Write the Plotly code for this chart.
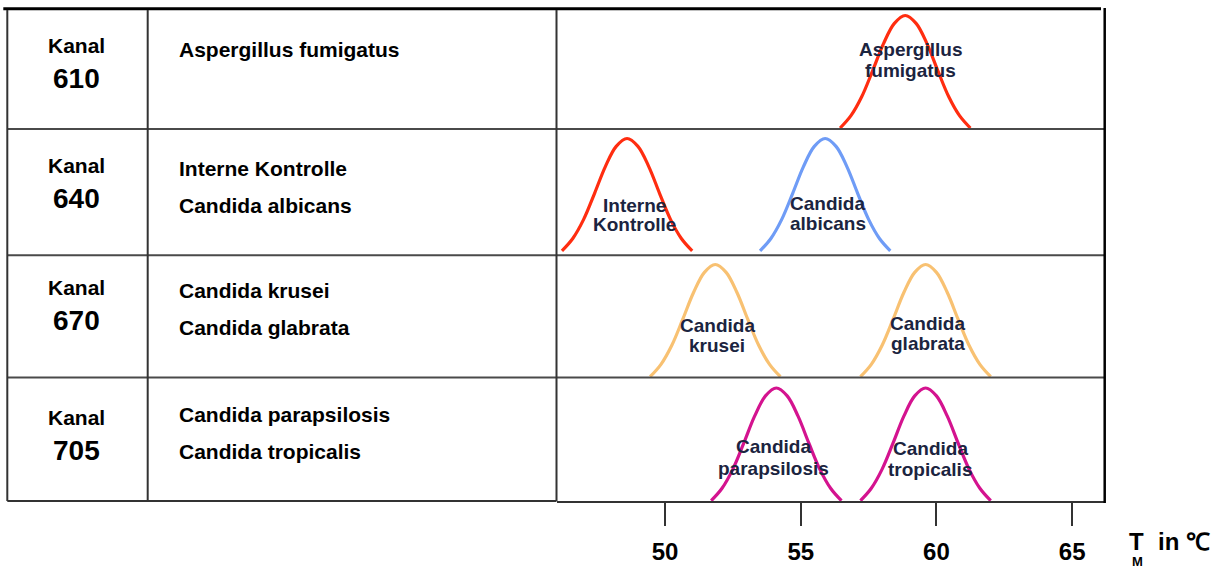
import plotly.graph_objects as go

W, H = 1223, 571

# ---------------- data ----------------
channel_word = "Kanal"
channels = ["610", "640", "670", "705"]
targets_610 = ["Aspergillus fumigatus"]
targets_640 = ["Interne Kontrolle", "Candida albicans"]
targets_670 = ["Candida krusei", "Candida glabrata"]
targets_705 = ["Candida parapsilosis", "Candida tropicalis"]

peak_labels = ["Aspergillus\nfumigatus", "Interne\nKontrolle", "Candida\nalbicans",
               "Candida\nkrusei", "Candida\nglabrata",
               "Candida\nparapsilosis", "Candida\ntropicalis"]
peak_channel = [0, 1, 1, 2, 2, 3, 3]
peak_tm = [58.85, 48.6, 55.9, 51.85, 59.6, 54.1, 59.6]          # melting temperature (°C)
peak_colors = ["#FF2D10", "#FF2D10", "#6F9CF6", "#F8C172", "#F8C172", "#D4138F", "#D4138F"]

# shape of one melting peak (offset in °C, relative height)
profile_dt = [-2.4, -2.0, -1.6, -1.2, -0.8, -0.4, 0.0, 0.4, 0.8, 1.2, 1.6, 2.0, 2.4]
profile_h = [0.0, 0.11, 0.28, 0.51, 0.75, 0.93, 1.0, 0.93, 0.75, 0.51, 0.28, 0.11, 0.0]

x_ticks = [50, 55, 60, 65]
x_range = [46.0, 66.2]

# ---------------- layout geometry (pixels) ----------------
row_edges = [9, 129, 255.3, 377.5, 501]
col_edges = [7.3, 147.7, 556.5, 1104.7]
row_peak_gap = [6.5, 9.5, 9.2, 10.5]    # gap between row top and peak
row_base_gap = [1.0, 4.5, 0.8, 0.3]     # gap between curve ends and row bottom

kanal_y = [45.8, 165.8, 287.5, 417.5]
number_y = [78.3, 198.5, 320.8, 450.0]
target_y = [[50.0], [169.0, 206.0], [290.7, 328.0], [414.8, 451.6]]
label_dx = [0.21, 0.26, 0.1, 0.07, 0.08, -0.11, 0.18]
label_y = [[50, 71], [205, 224.5], [203, 223], [325, 345.5], [323, 343], [446.7, 468], [448, 469]]

FONT = "Liberation Sans, Arial, sans-serif"
TXT = "#000000"
LBL = "#1B2440"


def px(x):
    return x / W


def py(y):
    return 1 - y / H


fig = go.Figure()

layout = dict(
    width=W, height=H,
    margin=dict(l=0, r=0, t=0, b=0),
    paper_bgcolor="white", plot_bgcolor="white",
    showlegend=False,
    template="none",
    font=dict(family=FONT, color=TXT),
    xaxis=dict(
        domain=[px(col_edges[2]), px(col_edges[3])],
        range=x_range, anchor="y4",
        tickvals=x_ticks, ticktext=[str(t) for t in x_ticks],
        ticks="outside", ticklen=23, tickwidth=1.5, tickcolor="#333333",
        tickfont=dict(family=FONT, size=24, color="#000000", weight="bold"),
        ticklabelstandoff=5,
        showline=True, linecolor="#333333", linewidth=2,
        showgrid=False, zeroline=False, automargin=False, fixedrange=True,
    ),
)
for i in range(4):
    top, bot = row_edges[i], row_edges[i + 1]
    s = (bot - top - row_peak_gap[i] - row_base_gap[i])
    ymin = -row_base_gap[i] / s
    ymax = 1 + row_peak_gap[i] / s
    name = "yaxis" if i == 0 else f"yaxis{i + 1}"
    layout[name] = dict(
        domain=[py(bot), py(top)], range=[ymin, ymax], anchor="x",
        showgrid=False, zeroline=False, showticklabels=False, showline=False,
        ticks="", automargin=False, fixedrange=True,
    )
fig.update_layout(**layout)

# curves
for k in range(len(peak_tm)):
    xs = [peak_tm[k] + d for d in profile_dt]
    yref = "y" if peak_channel[k] == 0 else f"y{peak_channel[k] + 1}"
    fig.add_trace(go.Scatter(
        x=xs, y=profile_h, mode="lines",
        line=dict(color=peak_colors[k], width=3.2, shape="spline", smoothing=1.0),
        xaxis="x", yaxis=yref, hoverinfo="skip",
    ))

annotations = []
for k, lab in enumerate(peak_labels):
    for j, line in enumerate(lab.split("\n")):
        annotations.append(dict(
            x=peak_tm[k] + label_dx[k], xref="x", y=py(label_y[k][j]), yref="paper",
            text=line, showarrow=False, xanchor="center", yanchor="middle",
            font=dict(family=FONT, size=19, color=LBL, weight="bold"),
        ))

targets = [targets_610, targets_640, targets_670, targets_705]
for i in range(4):
    annotations.append(dict(
        x=px(76), y=py(kanal_y[i]), xref="paper", yref="paper", text=channel_word,
        showarrow=False, xanchor="center", yanchor="middle",
        font=dict(family=FONT, size=21, color=TXT, weight="bold")))
    annotations.append(dict(
        x=px(76), y=py(number_y[i]), xref="paper", yref="paper", text=channels[i],
        showarrow=False, xanchor="center", yanchor="middle",
        font=dict(family=FONT, size=28, color=TXT, weight="bold")))
    for j, t in enumerate(targets[i]):
        annotations.append(dict(
            x=px(177.2), y=py(target_y[i][j]), xref="paper", yref="paper", text=t,
            showarrow=False, xanchor="left", yanchor="middle",
            font=dict(family=FONT, size=21, color=TXT, weight="bold")))

# axis title  T_M in ℃
annotations.append(dict(x=px(1127), y=py(541.5), xref="paper", yref="paper", text="T",
                        showarrow=False, xanchor="left", yanchor="middle",
                        font=dict(family=FONT, size=24, color=TXT, weight="bold")))
annotations.append(dict(x=px(1137), y=py(561.5), xref="paper", yref="paper", text="M",
                        showarrow=False, xanchor="center", yanchor="middle", borderpad=0,
                        font=dict(family=FONT, size=13, color=TXT, weight="bold")))
annotations.append(dict(x=px(1156), y=py(541.5), xref="paper", yref="paper", text="in ℃",
                        showarrow=False, xanchor="left", yanchor="middle",
                        font=dict(family=FONT, size=24, color=TXT, weight="bold")))
fig.update_layout(annotations=annotations)

shapes = []


def hline(x0, x1, y, color, width):
    shapes.append(dict(type="line", xref="paper", yref="paper",
                       x0=px(x0), x1=px(x1), y0=py(y), y1=py(y),
                       line=dict(color=color, width=width)))


def vline(x, y0, y1, color, width):
    shapes.append(dict(type="line", xref="paper", yref="paper",
                       x0=px(x), x1=px(x), y0=py(y0), y1=py(y1),
                       line=dict(color=color, width=width)))


hline(3.3, 1101, 8.7, "#000000", 3)
for yy in row_edges[1:4]:
    hline(col_edges[0], col_edges[3], yy, "#4a4a4a", 2)
hline(col_edges[0], col_edges[2], row_edges[4], "#333333", 2)
for xx in col_edges[:3]:
    vline(xx, 10, row_edges[4], "#333333", 2)
vline(col_edges[3], 8, 503, "#000000", 2.5)
fig.update_layout(shapes=shapes)

fig.write_html(
    "out.html",
    config={"displayModeBar": False},
    post_script="document.body.style.margin='0';document.body.style.overflow='hidden';",
)
